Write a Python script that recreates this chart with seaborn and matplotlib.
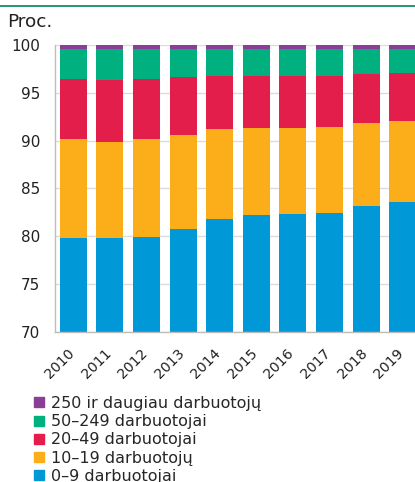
import numpy as np
import pandas as pd
import matplotlib
matplotlib.use("Agg")
import matplotlib.pyplot as plt
import matplotlib.transforms as mtransforms
import seaborn as sns
from matplotlib.lines import Line2D

# data (shares in %, per year)
years = ["2010", "2011", "2012", "2013", "2014", "2015", "2016", "2017", "2018", "2019"]
s_0_9 = [79.8, 79.8, 79.9, 80.7, 81.8, 82.2, 82.3, 82.4, 83.2, 83.6]
s_10_19 = [10.4, 10.1, 10.3, 9.9, 9.4, 9.1, 9.0, 9.0, 8.6, 8.4]
s_20_49 = [6.2, 6.4, 6.2, 6.0, 5.6, 5.5, 5.5, 5.4, 5.2, 5.1]
s_50_249 = [3.2, 3.3, 3.2, 3.0, 2.8, 2.8, 2.8, 2.8, 2.6, 2.5]
s_250 = [0.4, 0.4, 0.4, 0.4, 0.4, 0.4, 0.4, 0.4, 0.4, 0.4]

labels = ["0\u20139 darbuotojai", "10\u201319 darbuotojų", "20\u201349 darbuotojai",
          "50\u2013249 darbuotojai", "250 ir daugiau darbuotojų"]
colors = ["#0098d6", "#fbae19", "#e31e4a", "#00b07f", "#8b3e98"]

df = pd.DataFrame({"year": years, labels[0]: s_0_9, labels[1]: s_10_19,
                   labels[2]: s_20_49, labels[3]: s_50_249, labels[4]: s_250})
cum = df[labels].cumsum(axis=1)
cum["year"] = years

sns.set_style("whitegrid")
plt.rcParams["font.family"] = ["DejaVu Sans"]

fig = plt.figure(figsize=(4.15, 4.82), dpi=100)
ax = fig.add_axes([55 / 415, 150.3 / 482, 366 / 415, 286.7 / 482])

# stacked bars: draw the tallest cumulative first, smaller ones on top
for lab, col in reversed(list(zip(labels, colors))):
    sns.barplot(data=cum, x="year", y=lab, color=col, width=0.74,
                linewidth=0, saturation=1, ax=ax)

ax.set_ylim(70, 100)
ax.set_yticks([70, 75, 80, 85, 90, 95, 100])
ax.set_xlim(-0.5, 9.5)
ax.set_xlabel("")
ax.set_ylabel("")
ax.grid(axis="y", color="#dcdcdc", linewidth=1)
ax.grid(axis="x", visible=False)
ax.set_axisbelow(True)
for side in ["top", "right"]:
    ax.spines[side].set_visible(False)
for side in ["left", "bottom"]:
    ax.spines[side].set_color("#bdbdbd")
    ax.spines[side].set_linewidth(1)
ax.tick_params(axis="y", length=0, pad=10.5, labelsize=11, labelcolor="#222222")
ax.tick_params(axis="x", length=0, pad=10.5, labelsize=10.2, labelcolor="#222222")
shift = mtransforms.ScaledTranslation(-6 / 100, 0, fig.dpi_scale_trans)
for lbl in ax.get_xticklabels():
    lbl.set_rotation(45)
    lbl.set_ha("right")
    lbl.set_rotation_mode("anchor")
    lbl.set_transform(lbl.get_transform() + shift)

fig.text(7 / 415, 1 - 27 / 482, "Proc.", fontsize=13.3, color="#222222")
fig.add_artist(Line2D([0, 1], [1 - 5.5 / 482, 1 - 5.5 / 482], color="#00845a", linewidth=1.2))

handles = [Line2D([], [], marker="s", linestyle="", markersize=7, color=c)
           for c in reversed(colors)]
fig.legend(handles, list(reversed(labels)), loc="upper left",
           bbox_to_anchor=(33 / 415, 1 - 396 / 482), frameon=False,
           fontsize=11.5, handlelength=0.8, handletextpad=0.35, labelspacing=0.2,
           borderaxespad=0, borderpad=0)

fig.savefig("out.png", dpi=100)
